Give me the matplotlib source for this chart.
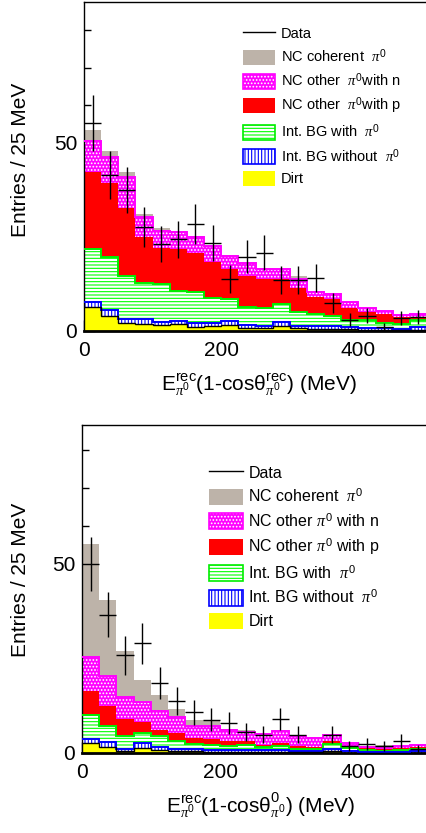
import numpy as np
import matplotlib
matplotlib.use("Agg")
import matplotlib.pyplot as plt
from matplotlib.patches import Patch
from matplotlib.lines import Line2D
from matplotlib.legend_handler import HandlerTuple
from matplotlib.ticker import MultipleLocator, FixedLocator

plt.rcParams['font.family'] = ['Liberation Sans', 'DejaVu Sans']
plt.rcParams['mathtext.fontset'] = 'custom'
plt.rcParams['mathtext.rm'] = 'Liberation Sans'
plt.rcParams['mathtext.it'] = 'Liberation Serif:italic'
plt.rcParams['mathtext.bf'] = 'Liberation Sans:bold'
plt.rcParams['hatch.linewidth'] = 0.8

# ---------------- data ----------------
bin_edges = np.arange(0, 525, 25)  # MeV, 25 MeV bins

# Top panel: E(1-cos theta^rec)
top_dirt    = [6.3, 4.0, 2.0, 1.9, 1.6, 1.8, 1.1, 1.3, 1.7, 0.7, 0.9, 1.3, 0.7, 0.6, 0.5, 0.4, 0.3, 0.2, 0.2, 0.3]
top_bg_nopi = [1.5, 1.6, 1.1, 1.2, 0.9, 0.8, 1.1, 0.7, 0.9, 0.9, 0.4, 1.2, 0.6, 0.7, 0.8, 0.6, 0.6, 0.5, 0.4, 0.7]
top_bg_pi   = [14.0, 14.0, 11.5, 9.6, 9.9, 8.1, 8.1, 6.9, 5.8, 4.7, 4.7, 4.7, 3.8, 3.2, 2.7, 1.9, 2.0, 1.5, 1.3, 1.9]
top_nc_p    = [20.6, 19.8, 18.2, 12.4, 9.8, 11.1, 10.5, 9.5, 8.0, 8.3, 7.7, 6.5, 6.4, 4.6, 4.4, 3.1, 2.2, 2.3, 1.7, 0.9]
top_nc_n    = [8.2, 6.8, 8.2, 5.1, 4.5, 4.4, 4.1, 4.3, 3.6, 3.4, 2.9, 2.7, 2.2, 1.4, 1.4, 1.6, 0.9, 0.8, 0.7, 0.7]
top_coh     = [2.9, 1.8, 1.4, 0.9, 0.6, 0.5, 0.3, 0.2, 0.2, 0.2, 0.2, 0.2, 0.9, 0.2, 0.2, 0.1, 0.1, 0.1, 0.1, 0.1]
top_data    = [55.4, 41.5, 37.5, 27.6, 23.1, 24.4, 28.5, 23.5, 13.8, 19.8, 20.8, 13.6, 13.6, 14.0, 7.4, 3.0, 4.0, 1.0, 3.5, 3.8]
top_err     = [7.4, 6.4, 6.1, 5.3, 4.8, 4.9, 5.3, 4.8, 3.7, 4.4, 4.6, 3.7, 3.7, 3.7, 2.7, 1.7, 2.0, 1.0, 1.9, 1.9]

# Bottom panel: E(1-cos theta^0)
bot_dirt    = [2.6, 1.5, 0.5, 1.2, 0.7, 0.4, 0.4, 0.3, 0.3, 0.3, 0.3, 0.2, 0.2, 0.2, 0.5, 0.1, 0.1, 0.1, 0.1, 0.1]
bot_bg_nopi = [1.1, 1.3, 0.6, 1.4, 0.9, 0.7, 0.6, 0.6, 0.5, 0.5, 0.4, 0.5, 0.4, 0.3, 0.5, 0.3, 0.2, 0.2, 0.2, 0.3]
bot_bg_pi   = [6.4, 4.4, 3.3, 2.8, 3.0, 2.0, 1.5, 1.3, 1.0, 1.4, 0.9, 1.1, 0.5, 0.5, 1.5, 0.9, 0.5, 0.3, 0.4, 0.6]
bot_nc_p    = [6.2, 5.3, 4.6, 2.7, 1.5, 2.2, 1.5, 1.5, 1.3, 1.0, 0.6, 0.8, 0.8, 0.6, 0.8, 0.6, 0.4, 0.4, 0.6, 0.5]
bot_nc_n    = [9.0, 7.7, 5.9, 5.3, 5.1, 4.2, 3.2, 3.5, 3.0, 2.3, 2.8, 3.3, 2.5, 2.4, 1.5, 0.7, 0.3, 0.5, 0.5, 0.5]
bot_coh     = [29.8, 20.2, 11.9, 5.9, 4.2, 2.1, 1.4, 1.4, 0.3, 0.5, 0.3, 0.1, 0.1, 0.1, 0.1, 0.1, 0.1, 0.6, 0.1, 0.1]
bot_data    = [49.9, 36.5, 25.8, 29.0, 18.5, 13.8, 10.7, 8.8, 7.9, 5.5, 4.8, 9.0, 4.8, 0.0, 4.8, 1.8, 2.4, 1.8, 3.1, 1.0]
bot_err     = [7.1, 6.0, 5.1, 5.4, 4.3, 3.7, 3.3, 3.0, 2.8, 2.3, 2.2, 3.0, 2.2, 0.0, 2.2, 1.3, 1.5, 1.3, 1.8, 1.0]

labels_top = ["Data", r"NC coherent  $\pi^0$", r"NC other  $\pi^0$with n", r"NC other  $\pi^0$with p",
              r"Int. BG with  $\pi^0$", r"Int. BG without  $\pi^0$", "Dirt"]
labels_bot = ["Data", r"NC coherent  $\pi^0$", r"NC other $\pi^0$ with n", r"NC other $\pi^0$ with p",
              r"Int. BG with  $\pi^0$", r"Int. BG without  $\pi^0$", "Dirt"]

xlabel_top = r"E$^{\rm rec}_{\pi^0}$(1-cos$\mathrm{\theta}^{\rm rec}_{\pi^0}$) (MeV)"
xlabel_bot = r"E$^{\rm rec}_{\pi^0}$(1-cos$\mathrm{\theta}^{0}_{\pi^0}$) (MeV)"
ylabel = "Entries / 25 MeV"

# ---------------- styles ----------------
GRAY = '#bdb3a9'
styles = [
    dict(face='#ffff00', hc='#ffff00', hatch=None, line='black'),      # dirt
    dict(face='white', hc='#0000ff', hatch='|||||', line='#0000ff'),    # bg no pi0
    dict(face='white', hc='#00ff00', hatch='-----', line='#00ee00'),    # bg with pi0
    dict(face='#ff0000', hc='#ff0000', hatch=None, line='#ff0000'),     # nc p
    dict(face='#ff00ff', hc='white', hatch='.....', line='#ff00ff'),    # nc n
    dict(face=GRAY, hc=GRAY, hatch=None, line=GRAY),                    # coherent
]

W, H = 427, 833
fig = plt.figure(figsize=(W / 100, H / 100), dpi=100)


def px_axes(left, top, right, bottom):
    return fig.add_axes([left / W, 1 - bottom / H, (right - left) / W, (bottom - top) / H])


def draw_panel(ax, comps, data, err, ymax, labels, xlabel, leg_xy, leg_fs, hl, hh, lsp, htp,
               axh, xl_center, yl_center):
    edges = bin_edges
    base = np.zeros(len(edges) - 1)
    for comp, st in zip(comps, styles):
        top = base + np.asarray(comp)
        ax.stairs(top, edges, baseline=base, fill=True, facecolor=st['face'],
                  edgecolor=st['hc'], hatch=st['hatch'], linewidth=0, zorder=2)
        base = top
    cums = np.cumsum(np.array(comps, dtype=float), axis=0)
    for i in range(len(comps) - 1, -1, -1):
        st = styles[i]
        lw = 1.0 if i == 0 else 1.4
        if i in (3, 5):
            continue
        ax.stairs(cums[i], edges, baseline=None, color=st['line'], linewidth=lw, zorder=3)

    d = np.asarray(data, dtype=float)
    e = np.asarray(err, dtype=float)
    centers = 0.5 * (edges[:-1] + edges[1:])
    halfw = 0.5 * np.diff(edges)
    m = d > 0
    ax.errorbar(centers[m], d[m], xerr=halfw[m], yerr=e[m], fmt='none',
                ecolor='black', elinewidth=1.0, capsize=0, zorder=5)

    ax.set_xlim(0, 500)
    ax.set_ylim(0, ymax)
    ax.spines['right'].set_visible(False)
    ax.spines['bottom'].set_linewidth(2.0)
    ax.spines['left'].set_linewidth(1.0)
    ax.spines['top'].set_linewidth(1.0)
    ax.xaxis.set_major_locator(FixedLocator([0, 200, 400]))
    ax.xaxis.set_minor_locator(MultipleLocator(50))
    ax.yaxis.set_major_locator(FixedLocator([0, 50]))
    ax.yaxis.set_minor_locator(MultipleLocator(10))
    ax.tick_params(which='both', direction='in', labelsize=15, top=False, right=False)
    ax.tick_params(which='major', length=8, width=1)
    ax.tick_params(which='minor', length=5, width=1)
    ax.tick_params(axis='x', pad=7)
    ax.tick_params(axis='y', pad=5)

    bbox = ax.get_position()
    ax_left_px = bbox.x0 * W
    ax_w_px = bbox.width * W
    ax_bottom_px_from_top = (1 - bbox.y0) * H
    ax.set_xlabel(xlabel, fontsize=15, va='center', ha='center')
    ax.xaxis.set_label_coords((xl_center[0] - ax_left_px) / ax_w_px,
                              -(xl_center[1] - ax_bottom_px_from_top) / axh)
    ax.set_ylabel(ylabel, fontsize=15, va='center', ha='center')
    ax.yaxis.set_label_coords((yl_center[0] - ax_left_px) / ax_w_px,
                              (ax_bottom_px_from_top - yl_center[1]) / axh)

    handles = [Line2D([], [], color='black', lw=1.0)]
    for i in range(len(comps) - 1, -1, -1):
        st = styles[i]
        if st['hatch']:
            fill = Patch(facecolor=st['face'], edgecolor=st['hc'], hatch=st['hatch'], linewidth=0)
            outline = Patch(facecolor='none', edgecolor=st['line'], linewidth=1.2)
            handles.append((fill, outline))
        else:
            handles.append(Patch(facecolor=st['face'], edgecolor=st['face'], linewidth=0))
    ax.legend(handles, labels, loc='upper left',
              bbox_to_anchor=(leg_xy[0] / W, 1 - leg_xy[1] / H), bbox_transform=fig.transFigure,
              frameon=False, fontsize=leg_fs, borderpad=0, borderaxespad=0,
              handlelength=hl, handleheight=hh, labelspacing=lsp, handletextpad=htp,
              handler_map={tuple: HandlerTuple(ndivide=1, pad=0)})


ax1 = px_axes(84, 2, 427, 331)
draw_panel(ax1, [top_dirt, top_bg_nopi, top_bg_pi, top_nc_p, top_nc_n, top_coh],
           top_data, top_err, 87.5, labels_top, xlabel_top,
           (243, 26), 10.5, 2.2, 1.2, 0.42, 0.4,
           329, (259, 385), (21, 160))

ax2 = px_axes(82, 425, 427, 753)
draw_panel(ax2, [bot_dirt, bot_bg_nopi, bot_bg_pi, bot_nc_p, bot_nc_n, bot_coh],
           bot_data, bot_err, 86.6, labels_bot, xlabel_bot,
           (209, 464), 11.5, 2.1, 1.19, 0.41, 0.37,
           328, (261, 806), (21, 580))

fig.savefig("out.png", dpi=100)
